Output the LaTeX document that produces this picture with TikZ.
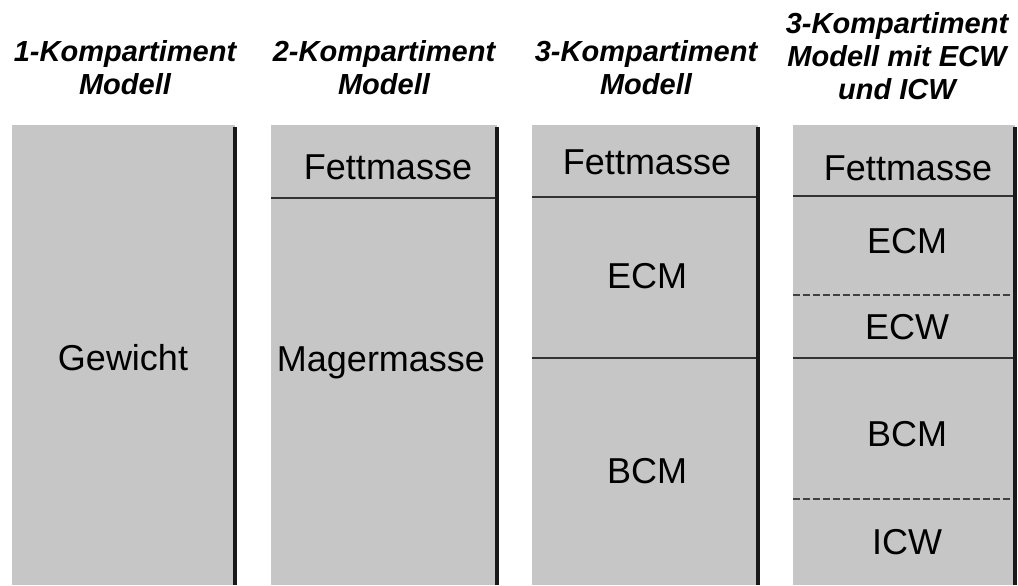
\documentclass[tikz,border=0pt]{standalone}
\usepackage{fontspec}
\setmainfont{Liberation Sans}
\definecolor{boxgray}{HTML}{C6C6C6}
\tikzset{
  column/.style={fill=boxgray},
  edge/.style={line width=2pt,draw=black!90},
  sep/.style={line width=1pt,draw=black!80},
  wsep/.style={line width=0.7pt,draw=black!75,dash pattern=on 3.5pt off 1.5pt},
  part/.style={anchor=base,inner sep=0pt,font=\fontsize{18}{21}\selectfont},
  head/.style={anchor=north,inner sep=0pt,align=center,
    font=\fontsize{14.5}{16.5}\selectfont\bfseries\itshape}
}

\begin{document}
\begin{tikzpicture}[x=0.5pt,y=-0.5pt]
    \useasboundingbox (0,0) rectangle (1018,585);

    % headings
    \node [head] (h1) at (125,40) {1-Kompartiment\\Modell};
    \node [head] (h2) at (384,40) {2-Kompartiment\\Modell};
    \node [head] (h3) at (646,40) {3-Kompartiment\\Modell};
    \node [head] (h4) at (897,12) {3-Kompartiment\\Modell mit ECW\\und ICW};

    % columns
    \fill [column] (12,125) rectangle (235,585);
    \fill [column] (271,125) rectangle (497,585);
    \fill [column] (532,125) rectangle (758,585);
    \fill [column] (793,125) rectangle (1015,585);

    % compartment borders
    \draw [sep] (271,198) -- (497,198);
    \draw [sep] (532,197) -- (758,197);
    \draw [sep] (532,358) -- (758,358);
    \draw [sep] (793,196) -- (1015,196);
    \draw [wsep] (793,295) -- (1015,295);
    \draw [sep] (793,358) -- (1015,358);
    \draw [wsep] (793,499) -- (1015,499);

    % right edges
    \draw [edge] (235,127) -- (235,585);
    \draw [edge] (497,127) -- (497,585);
    \draw [edge] (758,127) -- (758,585);
    \draw [edge] (1015,127) -- (1015,585);

    % compartments
    \node [part] (gew) at (123,370) {Gewicht};
    \node [part] (fm2) at (388,179) {Fettmasse};
    \node [part] (mm2) at (381,371) {Magermasse};
    \node [part] (fm3) at (647,174) {Fettmasse};
    \node [part] (ecm3) at (647,288) {ECM};
    \node [part] (bcm3) at (647,483) {BCM};
    \node [part] (fm4) at (908,180) {Fettmasse};
    \node [part] (ecm4) at (907,253) {ECM};
    \node [part] (ecw4) at (907,339) {ECW};
    \node [part] (bcm4) at (907,446) {BCM};
    \node [part] (icw4) at (907,554) {ICW};
\end{tikzpicture}
\end{document}
